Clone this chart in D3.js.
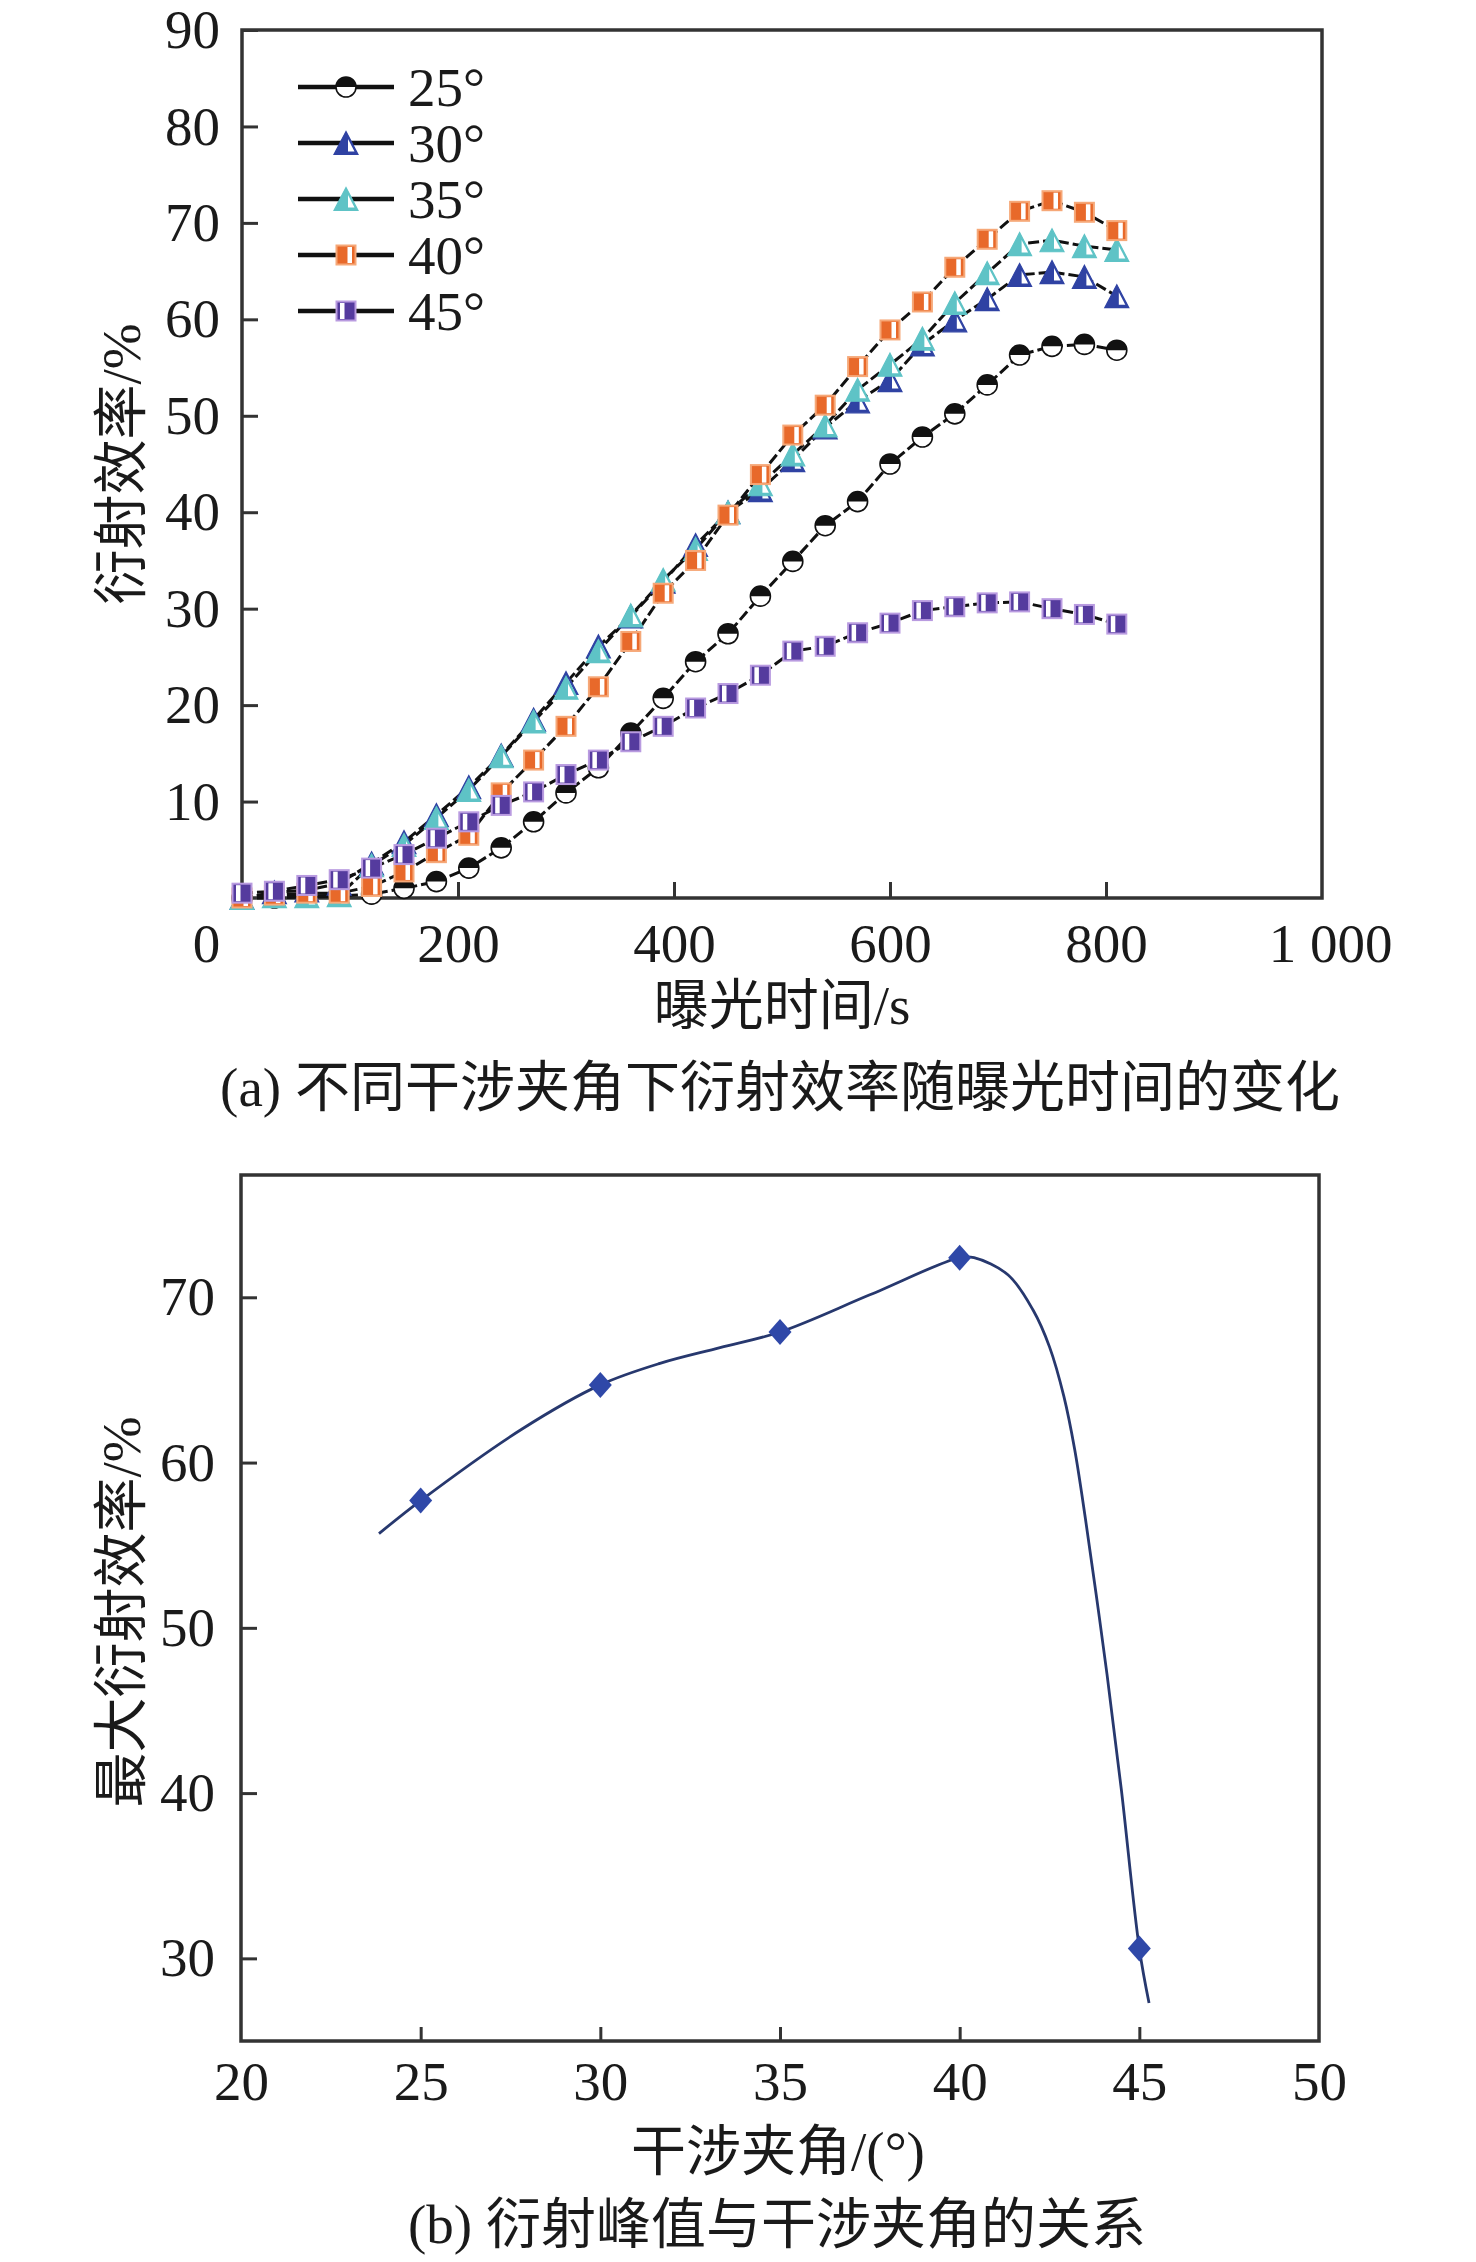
<!DOCTYPE html>
<html>
<head>
<meta charset="utf-8">
<script src="https://cdn.jsdelivr.net/npm/d3@7/dist/d3.min.js"></script>
<style>
  html, body { margin: 0; padding: 0; background: #fff; }
  svg { display: block; }
</style>
</head>
<body>
<script>
// ---------------- DATA ----------------
// Panel (a): diffraction efficiency (%) vs exposure time (s)
const times = [0, 30, 60, 90, 120, 150, 180, 210, 240, 270, 300, 330, 360, 390, 420, 450, 480, 510, 540, 570, 600, 630, 660, 690, 720, 750, 780, 810];
const eff25 = [0, 0, 0.1, 0.2, 0.4, 1.0, 1.7, 3.1, 5.2, 7.9, 10.9, 13.5, 17.1, 20.7, 24.5, 27.4, 31.3, 34.9, 38.6, 41.1, 45.0, 47.8, 50.2, 53.2, 56.3, 57.2, 57.4, 56.8];
const eff30 = [0, 0.6, 0.8, 1.5, 3.6, 5.8, 8.6, 11.5, 14.8, 18.5, 22.3, 26.1, 29.2, 32.8, 36.6, 40.0, 42.3, 45.4, 48.8, 51.5, 53.7, 57.4, 59.9, 62.1, 64.6, 64.9, 64.4, 62.4];
const eff35 = [0, 0.2, 0.2, 0.3, 3.4, 5.5, 8.3, 11.2, 14.7, 18.3, 21.8, 25.6, 29.3, 33.0, 36.2, 40.0, 42.9, 46.0, 49.0, 52.7, 55.3, 58.0, 61.7, 64.8, 67.8, 68.2, 67.6, 67.2];
const eff40 = [0, 0.3, 0.5, 0.5, 1.2, 2.7, 4.7, 6.5, 10.9, 14.3, 17.8, 21.9, 26.6, 31.6, 35.0, 39.7, 43.9, 48.0, 51.1, 55.1, 58.9, 61.8, 65.4, 68.3, 71.2, 72.3, 71.1, 69.2];
const eff45 = [0.5, 0.7, 1.3, 1.9, 3.1, 4.5, 6.2, 7.9, 9.6, 11.0, 12.8, 14.3, 16.2, 17.8, 19.7, 21.2, 23.1, 25.6, 26.1, 27.5, 28.5, 29.8, 30.2, 30.6, 30.7, 30.0, 29.4, 28.4];
const seriesLabels = ["25°", "30°", "35°", "40°", "45°"];

const xTicksA = [0, 200, 400, 600, 800, 1000];
const xTickLabelsA = ["0", "200", "400", "600", "800", "1 000"];
const yTicksA = [10, 20, 30, 40, 50, 60, 70, 80, 90];

// Panel (b): peak efficiency vs interference angle
const angles = [25, 30, 35, 40, 45];
const peakEff = [57.7, 64.7, 67.9, 72.4, 30.6];
// smoothed fitted curve
const curveAngle = [23.84, 25, 27.8, 30, 31.66, 33.33, 35, 37.5, 40.0, 40.4, 41.35, 42.05, 42.5, 42.9, 43.2, 43.5, 43.8, 44.1, 44.5, 45.0, 45.27];
const curveEff   = [55.7, 57.7, 62.0, 64.7, 66.0, 66.95, 67.9, 70.15, 72.4, 72.4, 71.35, 69.2, 67.0, 64.0, 60.8, 56.6, 52.0, 47.2, 40.2, 30.6, 27.3];

const xTicksB = [20, 25, 30, 35, 40, 45, 50];
const yTicksB = [30, 40, 50, 60, 70];

// ---------------- STYLE ----------------
const W = 1476, H = 2262;
const FONT = "'Liberation Serif','Times New Roman','Noto Sans CJK SC',serif";
const FS = 55;
const AXIS_COLOR = "#333";
const TEXT_COLOR = "#1a1a1a";

const svg = d3.select("body").append("svg").attr("width", W).attr("height", H)
  .attr("viewBox", `0 0 ${W} ${H}`);
svg.append("rect").attr("width", W).attr("height", H).attr("fill", "#fff");

// ---------------- PANEL (a) ----------------
const xA = d3.scaleLinear().domain([0, 1000]).range([242, 1322]);
const yA = d3.scaleLinear().domain([0, 90]).range([898, 30]);

const gA = svg.append("g");

function styleAxis(g) {
  g.select(".domain").remove();
  g.selectAll(".tick line").attr("stroke", AXIS_COLOR).attr("stroke-width", 3);
  g.selectAll(".tick text").attr("font-family", FONT).attr("font-size", FS).attr("fill", TEXT_COLOR);
}

gA.append("g").attr("transform", `translate(${xA(0)},0)`)
  .call(d3.axisLeft(yA).tickValues(yTicksA).tickSize(-16).tickPadding(22).tickFormat(d3.format("d")))
  .call(styleAxis);

const xAxisA = gA.append("g").attr("transform", `translate(0,${yA(0)})`)
  .call(d3.axisBottom(xA).tickValues(xTicksA).tickSize(-16).tickPadding(25)
    .tickFormat((d, i) => xTickLabelsA[i]))
  .call(styleAxis);
// zero tick: label sits left of the corner, no inner tick line
xAxisA.selectAll(".tick").filter(d => d === 0).select("text").attr("dx", -36);
xAxisA.selectAll(".tick").filter(d => d === 0 || d === 1000).select("line").remove();
xAxisA.selectAll(".tick").filter(d => d === 1000).select("text").attr("dx", 8);

// frame
gA.append("rect")
  .attr("x", xA(0)).attr("y", yA(90))
  .attr("width", xA(1000) - xA(0)).attr("height", yA(0) - yA(90))
  .attr("fill", "none").attr("stroke", AXIS_COLOR).attr("stroke-width", 3.5);

// markers
const C30 = "#2f42a3", C35 = "#5ec3c6", C40 = "#e8692a", C40L = "#f6a878", C45 = "#553b9e", C45L = "#b99be0";

function mCircle(g) {
  g.append("circle").attr("r", 10).attr("fill", "#fff").attr("stroke", "#111").attr("stroke-width", 1.6);
  g.append("path").attr("d", "M-10,0 A10,10 0 0 1 10,0 Z").attr("fill", "#111");
}
function mTriangle(g, color) {
  g.append("path").attr("d", "M0,-11.5 L12,11.5 L-12,11.5 Z")
    .attr("fill", color).attr("stroke", color).attr("stroke-width", 1.2).attr("stroke-linejoin", "miter");
  g.append("path").attr("d", "M2,-4 L2,8.5 L8.5,8.5 Z").attr("fill", "#fff");
}
function mSquare(g, fill, edge, stripeX) {
  g.append("rect").attr("x", -9.5).attr("y", -9.5).attr("width", 19).attr("height", 19)
    .attr("fill", fill).attr("stroke", edge).attr("stroke-width", 2);
  g.append("rect").attr("x", stripeX).attr("y", -8).attr("width", 4.5).attr("height", 16).attr("fill", "#fff");
}
const markerFns = [
  g => mCircle(g),
  g => mTriangle(g, C30),
  g => mTriangle(g, C35),
  g => mSquare(g, C40, C40L, 1.5),
  g => mSquare(g, C45, C45L, -6)
];
const seriesVals = [eff25, eff30, eff35, eff40, eff45];

const lineA = d3.line().x(d => xA(d[0])).y(d => yA(d[1]));
const linesG = gA.append("g");
const marksG = gA.append("g");
seriesVals.forEach((vals, si) => {
  const pts = times.map((t, i) => [t, vals[i]]);
  linesG.append("path").attr("d", lineA(pts)).attr("fill", "none")
    .attr("stroke", "#111").attr("stroke-width", 3).attr("stroke-dasharray", "11,4");
});
seriesVals.forEach((vals, si) => {
  times.forEach((t, i) => {
    const g = marksG.append("g").attr("transform", `translate(${xA(t)},${yA(vals[i])})`);
    markerFns[si](g);
  });
});

// legend
const legRows = [87, 143, 199, 255, 311];
const legG = gA.append("g");
seriesLabels.forEach((lab, i) => {
  const y = legRows[i];
  legG.append("line").attr("x1", 298).attr("x2", 394).attr("y1", y).attr("y2", y)
    .attr("stroke", "#111").attr("stroke-width", 4.5);
  const g = legG.append("g").attr("transform", `translate(346,${y})`);
  markerFns[i](g);
  legG.append("text").attr("x", 408).attr("y", y + 19).text(lab)
    .attr("font-family", FONT).attr("font-size", FS).attr("fill", TEXT_COLOR);
});

// titles (a)
gA.append("text").attr("transform", `translate(140,${(yA(0) + yA(90)) / 2}) rotate(-90)`)
  .attr("text-anchor", "middle").attr("font-family", FONT).attr("font-size", FS).attr("fill", TEXT_COLOR)
  .text("衍射效率/%");
gA.append("text").attr("x", (xA(0) + xA(1000)) / 2).attr("y", 1024).attr("text-anchor", "middle")
  .attr("font-family", FONT).attr("font-size", FS).attr("fill", TEXT_COLOR).text("曝光时间/s");
gA.append("text").attr("x", 780).attr("y", 1106).attr("text-anchor", "middle")
  .attr("font-family", FONT).attr("font-size", FS).attr("fill", TEXT_COLOR).text("(a) 不同干涉夹角下衍射效率随曝光时间的变化");

// ---------------- PANEL (b) ----------------
const xB = d3.scaleLinear().domain([20, 50]).range([241, 1319]);
const yB = d3.scaleLinear().domain([25, 77.4]).range([2041, 1175]);
const gB = svg.append("g");

gB.append("g").attr("transform", `translate(${xB(20)},0)`)
  .call(d3.axisLeft(yB).tickValues(yTicksB).tickSize(-16).tickPadding(26).tickFormat(d3.format("d")))
  .call(styleAxis);
const xAxisB = gB.append("g").attr("transform", `translate(0,${yB(25)})`)
  .call(d3.axisBottom(xB).tickValues(xTicksB).tickSize(-14).tickPadding(20).tickFormat(d3.format("d")))
  .call(styleAxis);
xAxisB.selectAll(".tick").filter(d => d === 20 || d === 50).select("line").remove();

gB.append("rect")
  .attr("x", xB(20)).attr("y", yB(77.4))
  .attr("width", xB(50) - xB(20)).attr("height", yB(25) - yB(77.4))
  .attr("fill", "none").attr("stroke", AXIS_COLOR).attr("stroke-width", 3.5);

const curvePts = curveAngle.map((a, i) => [a, curveEff[i]]);
gB.append("path")
  .attr("d", d3.line().x(d => xB(d[0])).y(d => yB(d[1])).curve(d3.curveCatmullRom.alpha(0.5))(curvePts))
  .attr("fill", "none").attr("stroke", "#27386e").attr("stroke-width", 2.8);

gB.selectAll("path.dia").data(angles).enter().append("path").attr("class", "dia")
  .attr("transform", (d, i) => `translate(${xB(d)},${yB(peakEff[i])})`)
  .attr("d", "M0,-13 L11.5,0 L0,13 L-11.5,0 Z")
  .attr("fill", "#2f48a8");

gB.append("text").attr("transform", `translate(140,1612) rotate(-90)`)
  .attr("text-anchor", "middle").attr("font-family", FONT).attr("font-size", FS).attr("fill", TEXT_COLOR)
  .text("最大衍射效率/%");
gB.append("text").attr("x", 778).attr("y", 2170).attr("text-anchor", "middle")
  .attr("font-family", FONT).attr("font-size", FS).attr("fill", TEXT_COLOR).text("干涉夹角/(°)");
gB.append("text").attr("x", 777).attr("y", 2243).attr("text-anchor", "middle")
  .attr("font-family", FONT).attr("font-size", FS).attr("fill", TEXT_COLOR).text("(b) 衍射峰值与干涉夹角的关系");
</script>
</body>
</html>
